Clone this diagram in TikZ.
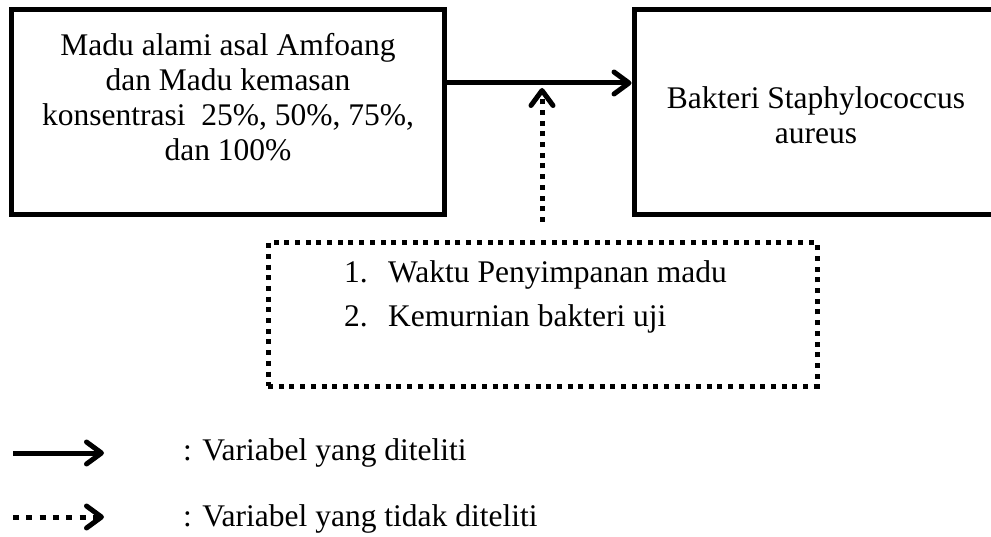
\documentclass[tikz,border=0pt]{standalone}
\usepackage{fontspec}
\setmainfont{Liberation Serif}
\usetikzlibrary{arrows.meta}

\tikzset{
  box/.style={draw, line width=5pt, minimum width=#1, minimum height=205.5pt, inner sep=0pt},
  dotline/.style={line width=5pt, dash pattern=on 5pt off 5.7pt},
  legdots/.style={line width=5pt, dash pattern=on 6pt off 7.3pt},
  chevron/.style={-{Straight Barb[length=15pt, width=22pt, line cap=round, line join=round]}},
  solidarrow/.style={line width=5pt, chevron},
  dotarrow/.style={dotline, chevron},
  legdotarrow/.style={legdots, chevron},
  txt/.style={font=\fontsize{31.5}{35}\selectfont, inner sep=0pt, align=center},
  ltxt/.style={font=\fontsize{31.5}{35}\selectfont, inner sep=0pt, anchor=base west}
}

\begin{document}
\begin{tikzpicture}[x=1pt, y=-1pt]
  \useasboundingbox (0,0) rectangle (991,537);
  \clip (0,0) rectangle (991,537);

  % the two main boxes
  \node[box=433.5pt] (honey) at (228,112) {};
  \node[box=371pt] (bact) at (819.5,112) {};

  \node[txt] (honeytxt) at (228,97.5)
    {Madu alami asal Amfoang\\ dan Madu kemasan\\ konsentrasi\ \ 25\%, 50\%, 75\%,\\ dan 100\%};
  \node[txt] (bacttxt) at (816,115.5) {Bakteri Staphylococcus\\ aureus};

  % box of variables not examined
  \node[draw, dotline, minimum width=549pt, minimum height=143pt, inner sep=0pt] (ctrl) at (542.5,314.5) {};
  \node[ltxt] (n1) at (344,283) {1.};
  \node[ltxt] (item1) at (388,283) {Waktu Penyimpanan madu};
  \node[ltxt] (n2) at (344,327) {2.};
  \node[ltxt] (item2) at (388,327) {Kemurnian bakteri uji};

  % connectors
  \draw[solidarrow] (honey.east |- 0,83) -- (bact.west |- 0,83);
  \coordinate (ctrltop) at (542,222);
  \coordinate (ctrltip) at (542,88);
  \draw[dotarrow] (ctrltop) -- (ctrltip);

  % legend
  \coordinate (l1a) at (13,453);
  \coordinate (l1b) at (104,453);
  \coordinate (l2a) at (13,517);
  \coordinate (l2b) at (104,517);
  \draw[solidarrow] (l1a) -- (l1b);
  \draw[legdotarrow] (l2a) -- (l2b);
  \node[ltxt] (leg1) at (183,460) {: Variabel yang diteliti};
  \node[ltxt] (leg2) at (183,526) {: Variabel yang tidak diteliti};
\end{tikzpicture}
\end{document}
